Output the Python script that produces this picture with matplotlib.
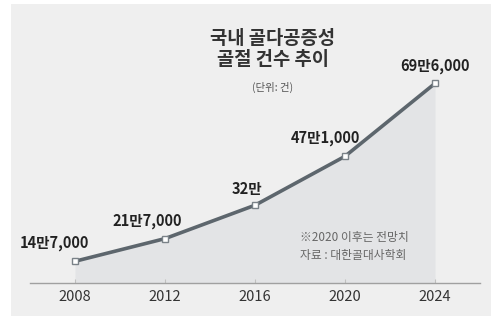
import matplotlib
matplotlib.use("Agg")
import matplotlib.pyplot as plt
from matplotlib.patches import Rectangle

plt.rcParams['font.family'] = ['Noto Sans CJK KR', 'DejaVu Sans']

# data (건)
years = [2008, 2012, 2016, 2020, 2024]
counts = [147000, 217000, 320000, 471000, 696000]
labels = ["14만7,000", "21만7,000", "32만", "47만1,000", "69만6,000"]
label_dx = [-15, -12.6, -6, -14.4, 0]   # label offsets in points
label_dy = [13, 13, 11.5, 13, 12.5]

W, H = 491, 320
fig = plt.figure(figsize=(W / 100, H / 100), dpi=100)
fig.patch.set_facecolor("white")
fig.patches.append(Rectangle((11 / W, 4 / H), (W - 11) / W, 312 / H,
                             transform=fig.transFigure, facecolor="#efefef",
                             edgecolor="none", zorder=-10))

ax = fig.add_axes([30 / W, 1 - 283 / H, 450 / W, 265.7 / H])
ax.set_zorder(5)
ax.set_facecolor("none")
ax.set_xlim(2006, 2026)
ax.set_ylim(80000, 900000)

ax.fill_between(years, counts, 80000, color="#e3e4e6", linewidth=0, zorder=1)
ax.plot(years, counts, color="#5d666d", lw=2.6, zorder=2,
        marker="s", ms=4.5, mfc="white", mec="#7a8288", mew=1.0)

for x, y, t, dx, dy in zip(years, counts, labels, label_dx, label_dy):
    ax.annotate(t, (x, y), xytext=(dx, dy), textcoords="offset points",
                ha="center", va="center", fontsize=10.5, fontweight="bold",
                color="#222222")

for s in ["top", "right", "left"]:
    ax.spines[s].set_visible(False)
ax.spines["bottom"].set_color("#a0a0a0")
ax.spines["bottom"].set_linewidth(1.0)
ax.set_yticks([])
ax.set_xticks(years)
ax.set_xticklabels([str(y) for y in years])
ax.tick_params(axis="x", direction="in", length=3, color="#c0c0c0",
               labelsize=10.5, labelcolor="#333333", pad=5)

fig.text(273 / W, 1 - 49 / H, "국내 골다공증성\n골절 건수 추이", ha="center",
         va="center", fontsize=13.5, fontweight="bold", color="#333333",
         linespacing=1.1)
fig.text(273 / W, 1 - 87 / H, "(단위: 건)", ha="center", va="center",
         fontsize=7.5, color="#555555")
fig.text(300 / W, 1 - 237 / H, "※2020 이후는 전망치", ha="left", va="center",
         fontsize=8.5, color="#666666", zorder=10)
fig.text(300 / W, 1 - 255 / H, "자료 : 대한골대사학회", ha="left", va="center",
         fontsize=8.5, color="#666666", zorder=10)

fig.savefig("out.png", dpi=100)
